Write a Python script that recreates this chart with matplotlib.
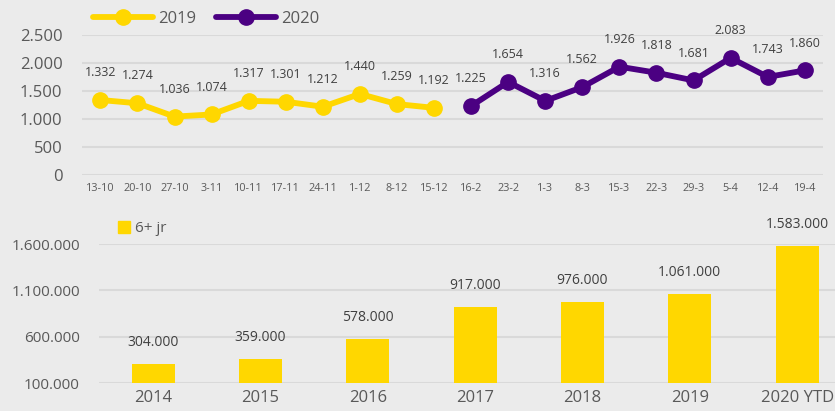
import matplotlib
matplotlib.use("Agg")
import matplotlib.pyplot as plt
from matplotlib.patches import Patch

plt.rcParams['font.family'] = ['Open Sans', 'DejaVu Sans']

# weekly numbers, top chart
weeks = ['13-10', '20-10', '27-10', '3-11', '10-11', '17-11', '24-11', '1-12', '8-12', '15-12',
         '16-2', '23-2', '1-3', '8-3', '15-3', '22-3', '29-3', '5-4', '12-4', '19-4']
vals_2019 = [1332, 1274, 1036, 1074, 1317, 1301, 1212, 1440, 1259, 1192]
vals_2020 = [1225, 1654, 1316, 1562, 1926, 1818, 1681, 2083, 1743, 1860]
y_ticks_top = [0, 500, 1000, 1500, 2000, 2500]

# yearly totals, bottom chart
years = ['2014', '2015', '2016', '2017', '2018', '2019', '2020 YTD']
totals = [304000, 359000, 578000, 917000, 976000, 1061000, 1583000]
y_ticks_bot = [100000, 600000, 1100000, 1600000]

YELLOW = '#FFD700'
PURPLE = '#4B0082'
TXT = '#595959'
GRID = '#d9d9d9'
BG = '#ebebeb'


def dots(v):
    """ thousand separator as dot """
    return f"{v:,}".replace(',', '.')


fig = plt.figure(figsize=(8.35, 4.11), dpi=100)
fig.patch.set_facecolor(BG)

# --- top: line chart
ax1 = fig.add_axes([0.098, 0.575, 0.888, 0.341])
ax1.set_facecolor('none')
x19 = list(range(len(vals_2019)))
x20 = list(range(len(vals_2019), len(weeks)))
ax1.plot(x19, vals_2019, color=YELLOW, lw=4.2, marker='o', ms=11, label='2019', solid_capstyle='round')
ax1.plot(x20, vals_2020, color=PURPLE, lw=4.2, marker='o', ms=11, label='2020', solid_capstyle='round')
for xs, vs in ((x19, vals_2019), (x20, vals_2020)):
    for x, v in zip(xs, vs):
        ax1.annotate(dots(v), (x, v), xytext=(0, 15), textcoords='offset points',
                     ha='center', va='bottom', fontsize=9, color='#404040')
ax1.set_xlim(-0.5, len(weeks) - 0.5)
ax1.set_ylim(0, 2500)
ax1.set_yticks(y_ticks_top)
ax1.set_yticklabels([dots(t) for t in y_ticks_top], fontsize=12, color=TXT)
ax1.set_xticks(range(len(weeks)))
ax1.set_xticklabels(weeks, fontsize=7.8, color=TXT)
ax1.tick_params(length=0, pad=6)
ax1.tick_params(axis='y', pad=14)
ax1.grid(axis='y', color=GRID, lw=1.5)
ax1.set_axisbelow(True)
for s in ax1.spines.values():
    s.set_visible(False)
ax1.legend(loc='lower left', bbox_to_anchor=(0.005, 1.0), ncol=2, frameon=False,
           fontsize=12, labelcolor=TXT, handlelength=3.6, columnspacing=1.2,
           handletextpad=0.3, borderaxespad=0.05)

# --- bottom: bar chart
ax2 = fig.add_axes([0.119, 0.068, 0.9, 0.338])
ax2.set_facecolor('none')
ax2.bar(range(len(years)), [t - y_ticks_bot[0] for t in totals], bottom=y_ticks_bot[0],
        width=0.4, color=YELLOW, label='6+ jr', zorder=2)
for i, t in enumerate(totals):
    ax2.annotate(dots(t), (i, t), xytext=(0, 10), textcoords='offset points',
                 ha='center', va='bottom', fontsize=10, color='#404040', annotation_clip=False)
ax2.set_xlim(-0.5, len(years) - 0.5)
ax2.set_ylim(y_ticks_bot[0], y_ticks_bot[-1])
ax2.set_yticks(y_ticks_bot)
ax2.set_yticklabels([dots(t) for t in y_ticks_bot], fontsize=11, color=TXT)
ax2.set_xticks(range(len(years)))
ax2.set_xticklabels(years, fontsize=12, color=TXT)
ax2.tick_params(length=0)
ax2.tick_params(axis='x', pad=5)
ax2.tick_params(axis='y', pad=14)
ax2.grid(axis='y', color=GRID, lw=1.5)
ax2.set_axisbelow(True)
for s in ax2.spines.values():
    s.set_visible(False)
ax2.legend(handles=[Patch(color=YELLOW, label='6+ jr')], loc='lower left',
           bbox_to_anchor=(0.015, 1.0), frameon=False, fontsize=11, labelcolor=TXT,
           handlelength=0.8, handleheight=0.8, handletextpad=0.3, borderaxespad=0.1)

fig.savefig('out.png', dpi=100, facecolor=fig.get_facecolor())
